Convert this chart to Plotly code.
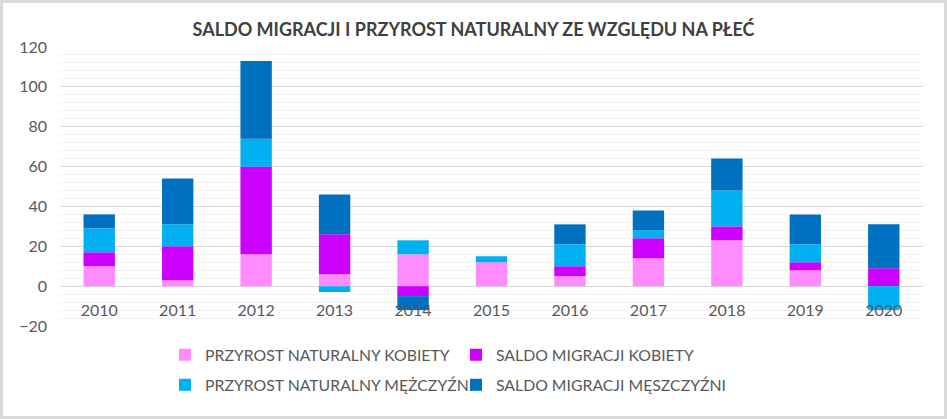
import plotly.graph_objects as go

years = ["2010", "2011", "2012", "2013", "2014", "2015", "2016", "2017", "2018", "2019", "2020"]
przyrost_kobiety = [10, 3, 16, 6, 16, 12, 5, 14, 23, 8, 0]
saldo_kobiety = [7, 17, 44, 20, -5, 0, 5, 10, 7, 4, 9]
przyrost_mezczyzni = [12, 11, 14, -3, 7, 3, 11, 4, 18, 9, -12]
saldo_mezczyzni = [7, 23, 39, 20, -7, 0, 10, 10, 16, 15, 22]

names = ["PRZYROST NATURALNY KOBIETY", "SALDO MIGRACJI KOBIETY",
         "PRZYROST NATURALNY MĘŻCZYŹNI", "SALDO MIGRACJI MĘSZCZYŹNI"]
colors = ["#FF8CFF", "#CC00FF", "#00B0F0", "#0070C0"]
series = [przyrost_kobiety, saldo_kobiety, przyrost_mezczyzni, saldo_mezczyzni]
legends = ["legend", "legend", "legend2", "legend2"]

W, H = 947, 419
ml, mr, mt, mb = 60, 24, 47, 93
pw, ph = W - ml - mr, H - mt - mb

fig = go.Figure()
for n, c, s, lg in zip(names, colors, series, legends):
    fig.add_trace(go.Bar(x=years, y=s, name=n, marker=dict(color=c, line=dict(width=0)),
                         legend=lg))

font = "Lato, 'Open Sans', sans-serif"
def px_x(p):
    return (p - ml) / pw
def px_y(p):
    return (H - mb - p) / ph

leg_common = dict(orientation="h", xanchor="left", yanchor="middle",
                  font=dict(family=font, size=15.8, color="#595959"),
                  entrywidth=246, entrywidthmode="pixels", bgcolor="rgba(0,0,0,0)",
                  itemwidth=30, traceorder="normal")

fig.update_layout(
    width=W, height=H,
    margin=dict(l=ml, r=mr, t=mt, b=mb),
    paper_bgcolor="white", plot_bgcolor="white",
    barmode="relative", bargap=0.6,
    title=dict(text="<b>SALDO MIGRACJI I PRZYROST NATURALNY ZE WZGLĘDU NA PŁEĆ</b>",
               x=0.5, xanchor="center", y=1 - 30 / H, yanchor="middle",
               font=dict(family=font, size=18, color="#404040")),
    font=dict(family=font, color="#595959"),
    legend=dict(x=px_x(165), y=px_y(355), **leg_common),
    legend2=dict(x=px_x(165), y=px_y(385), **leg_common),
    xaxis=dict(type="category", anchor="free", position=20 / 140, showline=False,
               showgrid=False, ticks="", tickfont=dict(family=font, size=16, color="#595959"),
               ticklabelstandoff=13),
    yaxis=dict(range=[-20, 120], dtick=20, showline=False, gridcolor="#d9d9d9", gridwidth=1,
               zeroline=True, zerolinecolor="#d9d9d9", zerolinewidth=1,
               minor=dict(dtick=4, showgrid=True, gridcolor="#f2f2f2", gridwidth=1),
               ticks="", tickfont=dict(family=font, size=16, color="#595959"),
               ticklabelstandoff=12),
    shapes=[dict(type="rect", xref="paper", yref="paper",
                 x0=px_x(1.5), x1=px_x(945.5), y0=px_y(417.5), y1=px_y(1.5),
                 line=dict(color="#d9d9d9", width=3), layer="below")],
)

fig.write_html("out.html")
